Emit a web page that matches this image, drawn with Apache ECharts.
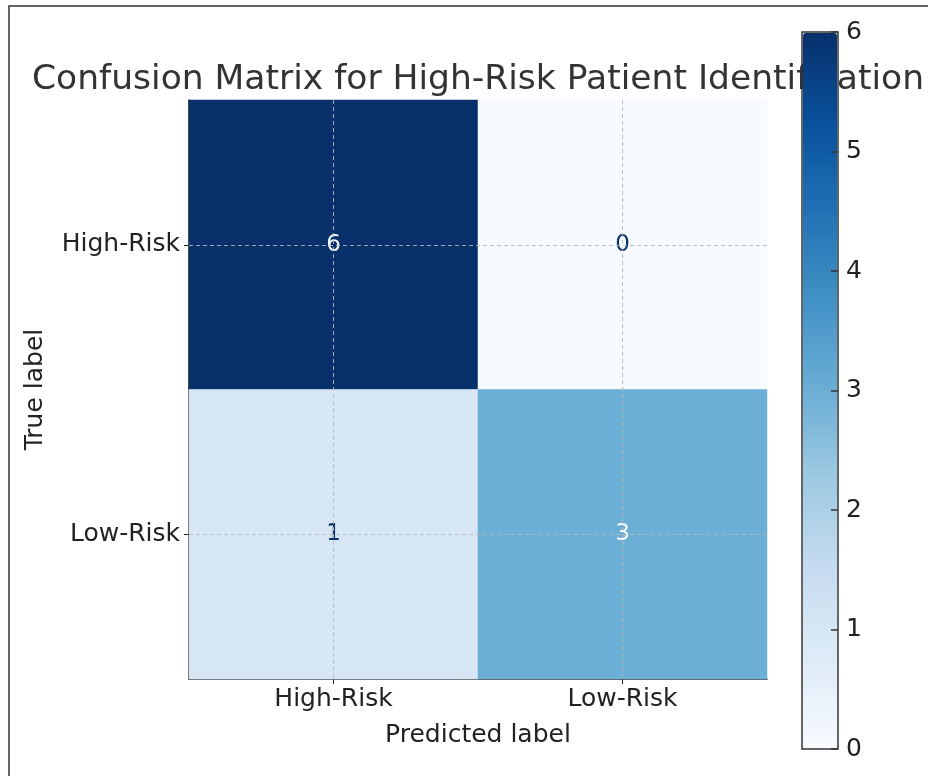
<!DOCTYPE html>
<html>
<head>
<meta charset="utf-8">
<title>Confusion Matrix</title>
<script src="https://cdn.jsdelivr.net/npm/echarts@6/dist/echarts.min.js"></script>
<style>
html, body { margin: 0; padding: 0; background: #fff; }
#main { width: 928px; height: 776px; }
</style>
</head>
<body>
<div id="main"></div>
<script>
// categories (rows = true label, columns = predicted label)
var predictedLabels = ['High-Risk', 'Low-Risk'];
var trueLabels = ['High-Risk', 'Low-Risk'];
// counts, one row per true label
var rowHighRisk = [6, 0];
var rowLowRisk = [1, 3];
var colorbarTicks = [0, 1, 2, 3, 4, 5, 6];

var font = 'DejaVu Sans';
var blues = ['#f7fbff', '#deebf7', '#c6dbef', '#9ecae1', '#6baed6', '#4292c6', '#2171b5', '#08519c', '#08306b'];

var rows = [rowHighRisk, rowLowRisk];
var cells = [];
rows.forEach(function (row, yi) {
	row.forEach(function (v, xi) {
		cells.push([xi, yi, v]);
	});
});
var vMin = colorbarTicks[0];
var vMax = colorbarTicks[colorbarTicks.length - 1];
var thresh = (vMin + vMax) / 2;

var chart = echarts.init(document.getElementById('main'));
var option = {
	backgroundColor: '#fff',
	animation: false,
	title: {
		text: 'Confusion Matrix for High-Risk Patient Identification',
		left: 27,
		top: 58,
		z: 1,
		textStyle: { fontFamily: font, fontSize: 34.5, fontWeight: 'normal', color: '#333' }
	},
	graphic: [{
		type: 'rect',
		z: 100,
		silent: true,
		shape: { x: 9, y: 6, width: 960, height: 800 },
		style: { fill: 'none', stroke: '#333', lineWidth: 1.5 }
	}],
	grid: [
		{ left: 189, top: 100, width: 578, height: 579 },
		{ left: 802, top: 32, width: 36, height: 717, show: true, borderColor: '#333', borderWidth: 1.5, backgroundColor: 'transparent', z: 5 }
	],
	xAxis: [{
		type: 'category',
		data: predictedLabels,
		name: 'Predicted label',
		nameLocation: 'middle',
		nameGap: 44,
		nameTextStyle: { fontFamily: font, fontSize: 25, color: '#222' },
		axisLine: { show: true, lineStyle: { color: '#222', width: 1.5 } },
		axisTick: { show: true, alignWithLabel: true, length: 5, lineStyle: { color: '#222' } },
		axisLabel: { fontFamily: font, fontSize: 25, color: '#222', margin: 8 },
		splitLine: { show: false }
	}, {
		gridIndex: 1, type: 'value', show: false, min: 0, max: 1
	}],
	yAxis: [{
		type: 'category',
		data: trueLabels,
		inverse: true,
		name: 'True label',
		nameLocation: 'middle',
		nameGap: 141,
		nameTextStyle: { fontFamily: font, fontSize: 25, color: '#222' },
		axisLine: { show: true, lineStyle: { color: '#222', width: 1.5 } },
		axisTick: { show: true, alignWithLabel: true, length: 5, lineStyle: { color: '#222' } },
		axisLabel: { fontFamily: font, fontSize: 25, color: '#222', margin: 9 },
		splitLine: { show: false }
	}, {
		gridIndex: 1,
		type: 'value',
		position: 'right',
		min: vMin,
		max: vMax,
		interval: 1,
		z: 6,
		axisLine: { show: false, onZero: false },
		axisTick: { show: true, inside: true, length: 7, lineStyle: { color: '#333', width: 1.5 } },
		axisLabel: { fontFamily: font, fontSize: 25, color: '#222', margin: 8 },
		splitLine: { show: false }
	}],
	visualMap: {
		type: 'continuous',
		min: vMin,
		max: vMax,
		seriesIndex: 0,
		calculable: false,
		hoverLink: false,
		showLabel: false,
		text: ['', ''],
		left: 803,
		top: 33,
		padding: 0,
		itemWidth: 34,
		itemHeight: 715,
		z: 4,
		inRange: { color: blues }
	},
	series: [{
		type: 'heatmap',
		itemStyle: { borderWidth: 0 },
		label: {
			show: true,
			fontFamily: font,
			fontSize: 23,
			formatter: function (p) { return p.value[2]; }
		},
		markLine: {
			silent: true,
			symbol: 'none',
			label: { show: false },
			lineStyle: { color: '#b8b8b8', type: [4, 3], width: 1, opacity: 0.9 },
			data: predictedLabels.map(function (c) { return { xAxis: c }; })
				.concat(trueLabels.map(function (c) { return { yAxis: c }; }))
		},
		// light text on dark cells, dark text on light cells
		data: cells.map(function (c) {
			return {
				value: c,
				label: { color: c[2] >= thresh ? '#f7fbff' : '#08306b' }
			};
		})
	}]
};
chart.setOption(option);
</script>
</body>
</html>
